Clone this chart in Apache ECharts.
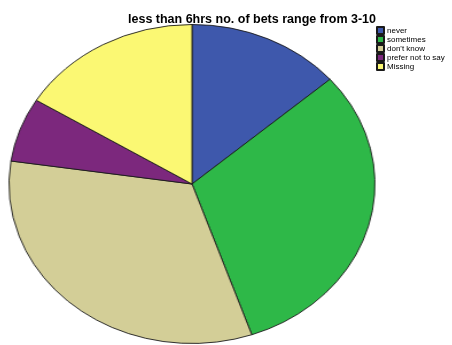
<!DOCTYPE html>
<html>
<head>
<meta charset="utf-8">
<script src="https://cdn.jsdelivr.net/npm/echarts@6/dist/echarts.min.js"></script>
<style>
  html, body { margin: 0; padding: 0; background: #fff; }
  #wrap { position: relative; width: 452px; height: 345px; overflow: hidden; }
  /* the SPSS pie is an ellipse, so the pie layer is stretched sideways */
  #pie { position: absolute; left: 32px; top: 23.5px; width: 320px; height: 320px;
         transform: scaleX(1.147); transform-origin: 160px 160px; }
  #over { position: absolute; left: 0; top: 0; width: 452px; height: 345px; }
</style>
</head>
<body>
<div id="wrap">
  <div id="pie"></div>
  <div id="over"></div>
</div>
<script>
// categories and shares (percent)
const categories = ['never', 'sometimes', "don't know", 'prefer not to say', 'Missing']
const shares = [13.6, 31.1, 32.6, 6.5, 16.2]
const colors = ['#3e58ac', '#2eb848', '#d3ce97', '#7c287d', '#fbf873']

const sliceData = categories.map((name, i) => ({
  name,
  value: shares[i],
  itemStyle: { color: colors[i], borderColor: '#1a1a1a', borderWidth: 0.9 }
}))

const pieChart = echarts.init(document.getElementById('pie'))
pieChart.setOption({
  animation: false,
  series: [{
    type: 'pie',
    center: [160, 160],
    radius: [0, 159.5],
    startAngle: 90,
    clockwise: true,
    label: { show: false },
    labelLine: { show: false },
    silent: true,
    data: sliceData
  }]
})

// title + legend layer (not stretched)
const over = echarts.init(document.getElementById('over'))
over.setOption({
  animation: false,
  title: {
    text: 'less than 6hrs no. of bets range from 3-10',
    left: 247,
    top: 8,
    textAlign: 'center',
    textStyle: { fontFamily: 'Liberation Sans, Arial', fontSize: 12.5, fontWeight: 'bold', color: '#000' }
  },
  legend: {
    orient: 'vertical',
    left: 376,
    top: 26,
    icon: 'rect',
    itemWidth: 7,
    itemHeight: 7,
    itemGap: 0,
    padding: 0,
    selectedMode: false,
    textStyle: { fontFamily: 'Liberation Sans, Arial', fontSize: 8, color: '#000', lineHeight: 8.8, padding: [0, 0, 0, -2] },
    data: categories
  },
  series: [{
    type: 'pie',
    radius: [0, 0],
    label: { show: false },
    silent: true,
    data: sliceData
  }]
})
</script>
</body>
</html>
